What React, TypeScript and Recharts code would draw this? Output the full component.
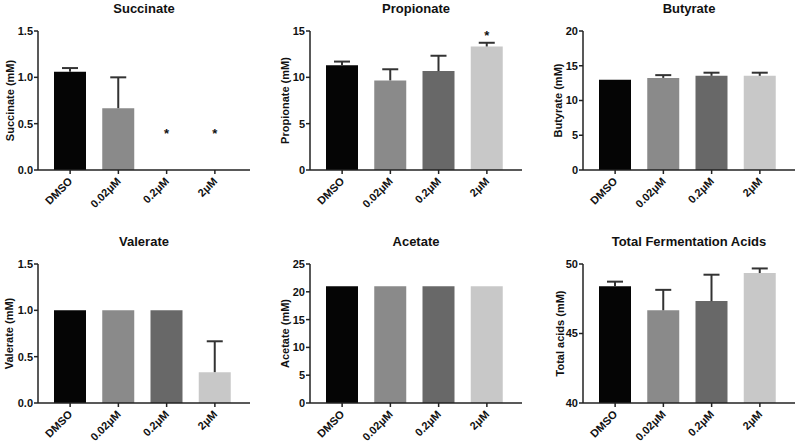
import React from "react";
import { ComposedChart, Bar, Cell, Scatter, XAxis, YAxis } from "recharts";

const CATEGORIES = ["DMSO", "0.02μM", "0.2μM", "2μM"];
const BAR_COLORS = ["#050505", "#8a8a8a", "#686868", "#c8c8c8"];

const succinateMean = [1.06, 0.667, 0, 0];
const succinateErr = [0.04, 0.333, 0, 0];
const succinateStar = [null, null, 0.42, 0.42];

const propionateMean = [11.3, 9.67, 10.67, 13.33];
const propionateErr = [0.4, 1.2, 1.66, 0.4];
const propionateStar = [null, null, null, 14.75];

const butyrateMean = [13, 13.25, 13.55, 13.55];
const butyrateErr = [0, 0.4, 0.45, 0.45];

const valerateMean = [1, 1, 1, 0.333];
const valerateErr = [0, 0, 0, 0.333];

const acetateMean = [21, 21, 21, 21];
const acetateErr = [0, 0, 0, 0];

const totalMean = [48.4, 46.67, 47.33, 49.35];
const totalErr = [0.33, 1.47, 1.9, 0.33];

const FONT = "'Liberation Sans', Arial, sans-serif";
const NONE = [null, null, null, null];

type PanelProps = {
  title: string;
  yLabel: string;
  mean: number[];
  err: number[];
  star: (number | null)[];
  domain: [number, number];
  ticks: number[];
  decimals: number;
  left: number;
  top: number;
  marginTop: number;
  xHeight: number;
  titleY: number;
  labelX: number;
};

const Whisker = (props: any) => {
  const { x, y, width, height } = props;
  if (!height || height <= 0) return null;
  const cx = x + width / 2;
  return (
    <g>
      <line x1={cx} x2={cx} y1={y} y2={y + height} stroke="#333" strokeWidth={2} />
      <line x1={cx - 8} x2={cx + 8} y1={y} y2={y} stroke="#333" strokeWidth={2} />
    </g>
  );
};

const StarMark = (props: any) => {
  const { cx, cy, payload } = props;
  if (payload == null || payload.star == null) return null;
  return (
    <text x={cx} y={cy + 7} textAnchor="middle" fontFamily={FONT} fontWeight="bold" fontSize={13} fill="#111">
      *
    </text>
  );
};

const XTick = (props: any) => {
  const { x, y, payload } = props;
  return (
    <text
      transform={`translate(${x + 3},${y + 6}) rotate(-45)`}
      textAnchor="end"
      fontFamily={FONT}
      fontWeight="bold"
      fontSize={11}
      fill="#111"
    >
      {payload.value}
    </text>
  );
};

function Panel(p: PanelProps) {
  const data = CATEGORIES.map((name, i) => ({
    name,
    mean: p.mean[i],
    err: p.err[i],
    star: p.star[i],
  }));
  return (
    <div style={{ position: "absolute", left: p.left, top: p.top, width: 262, height: 222 }}>
      <div
        style={{
          position: "absolute",
          left: 38,
          width: 212,
          top: p.titleY - 8,
          lineHeight: "16px",
          textAlign: "center",
          fontFamily: FONT,
          fontWeight: "bold",
          fontSize: 13,
          color: "#111",
        }}
      >
        {p.title}
      </div>
      <ComposedChart
        width={262}
        height={222}
        data={data}
        margin={{ top: p.marginTop, right: 12, bottom: 0, left: 0 }}
      >
        <XAxis
          dataKey="name"
          height={p.xHeight}
          padding={{ left: 8, right: 11 }}
          axisLine={{ stroke: "#222", strokeWidth: 1.5 }}
          tickLine={{ stroke: "#222", strokeWidth: 1.5 }}
          tickSize={4}
          tick={<XTick />}
          interval={0}
        />
        <YAxis
          width={38}
          domain={p.domain}
          ticks={p.ticks}
          allowDataOverflow
          axisLine={{ stroke: "#222", strokeWidth: 1.5 }}
          tickLine={{ stroke: "#222", strokeWidth: 1.5 }}
          tickSize={4}
          tickMargin={1}
          tickFormatter={(v: number) => v.toFixed(p.decimals)}
          tick={{ fontFamily: FONT, fontWeight: "bold", fontSize: 11, fill: "#111" }}
          label={(lp: any) => {
            const vb = lp.viewBox || {};
            const cy = vb.y + vb.height / 2;
            return (
              <text
                transform={`translate(${p.labelX},${cy}) rotate(-90)`}
                textAnchor="middle"
                dominantBaseline="central"
                fontFamily={FONT}
                fontWeight="bold"
                fontSize={11}
                fill="#111"
              >
                {p.yLabel}
              </text>
            );
          }}
        />
        <Bar dataKey="mean" stackId="s" barSize={32} isAnimationActive={false}>
          {data.map((d, i) => (
            <Cell key={d.name} fill={BAR_COLORS[i]} />
          ))}
        </Bar>
        <Bar dataKey="err" stackId="s" barSize={32} shape={<Whisker />} isAnimationActive={false} />
        <Scatter dataKey="star" shape={<StarMark />} isAnimationActive={false} />
      </ComposedChart>
    </div>
  );
}

export default function App() {
  const top = { top: 0, marginTop: 31, xHeight: 52, titleY: 9 };
  const bottom = { top: 222, marginTop: 42, xHeight: 41, titleY: 20 };
  return (
    <div
      style={{
        position: "absolute",
        left: 0,
        top: 0,
        width: 800,
        height: 444,
        background: "#fff",
        overflow: "hidden",
      }}
    >
      <Panel
        title="Succinate"
        yLabel="Succinate (mM)"
        mean={succinateMean}
        err={succinateErr}
        star={succinateStar}
        domain={[0, 1.5]}
        ticks={[0, 0.5, 1, 1.5]}
        decimals={1}
        left={0}
        labelX={9.5}
        {...top}
      />
      <Panel
        title="Propionate"
        yLabel="Propionate (mM)"
        mean={propionateMean}
        err={propionateErr}
        star={propionateStar}
        domain={[0, 15]}
        ticks={[0, 5, 10, 15]}
        decimals={0}
        left={272}
        labelX={12.5}
        {...top}
      />
      <Panel
        title="Butyrate"
        yLabel="Butyrate (mM)"
        mean={butyrateMean}
        err={butyrateErr}
        star={NONE}
        domain={[0, 20]}
        ticks={[0, 5, 10, 15, 20]}
        decimals={0}
        left={545}
        labelX={13}
        {...top}
      />
      <Panel
        title="Valerate"
        yLabel="Valerate (mM)"
        mean={valerateMean}
        err={valerateErr}
        star={NONE}
        domain={[0, 1.5]}
        ticks={[0, 0.5, 1, 1.5]}
        decimals={1}
        left={0}
        labelX={9}
        {...bottom}
      />
      <Panel
        title="Acetate"
        yLabel="Acetate (mM)"
        mean={acetateMean}
        err={acetateErr}
        star={NONE}
        domain={[0, 25]}
        ticks={[0, 5, 10, 15, 20, 25]}
        decimals={0}
        left={272}
        labelX={12.5}
        {...bottom}
      />
      <Panel
        title="Total Fermentation Acids"
        yLabel="Total acids (mM)"
        mean={totalMean}
        err={totalErr}
        star={NONE}
        domain={[40, 50]}
        ticks={[40, 45, 50]}
        decimals={0}
        left={545}
        labelX={14.5}
        {...bottom}
      />
    </div>
  );
}
